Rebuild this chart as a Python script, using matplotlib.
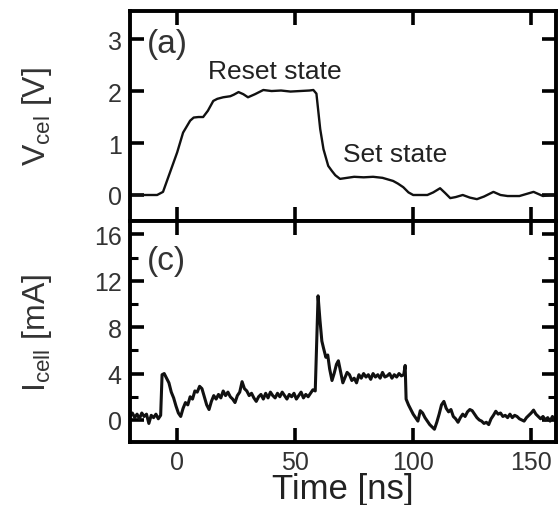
import matplotlib
matplotlib.use("Agg")
import matplotlib.pyplot as plt
from matplotlib.ticker import MultipleLocator, FixedLocator

plt.rcParams['font.family'] = ['Liberation Sans', 'DejaVu Sans']
plt.rcParams['mathtext.default'] = 'regular'

# ---- data ----
time_v = [-20, -14, -8.5, -6, -3, 0, 2.5, 5.5, 7, 9, 11, 13, 15.3, 17, 19.5, 22.5,
          24, 26, 28, 30, 33, 36.5, 40, 44, 48, 52, 56, 57.7, 59, 60.6, 62, 64,
          65.6, 67, 69, 72, 75, 79, 83, 87, 91.5, 93.5, 95.8, 98, 100, 103, 106,
          108.5, 111.4, 113.5, 115.7, 118, 121, 124, 127, 130, 134, 137, 140, 145,
          148, 151, 155, 158, 161]
v_cel = [0.0, 0.0, 0.0, 0.06, 0.44, 0.82, 1.2, 1.43, 1.49, 1.5, 1.5, 1.62, 1.81, 1.85,
         1.88, 1.9, 1.93, 1.98, 1.94, 1.88, 1.94, 2.02, 2.0, 2.01, 1.99, 2.0, 2.01,
         2.02, 1.95, 1.27, 0.88, 0.56, 0.46, 0.38, 0.31, 0.33, 0.35, 0.34, 0.35, 0.33,
         0.27, 0.22, 0.15, 0.05, 0.0, 0.0, 0.0, 0.05, 0.13, 0.04, -0.06, -0.04, 0.0,
         -0.05, -0.08, -0.03, 0.06, 0.0, -0.02, -0.02, 0.02, 0.06, -0.02, 0.0, 0.0]

time_i = [-20, -19, -18, -17, -16, -15, -14, -13, -12, -11, -10, -9, -8, -7,
          -6.4, -5.5, -4.5, -3.5, -2.5, -1.5, -0.5, 0.5, 1.5, 2.5, 3.5, 4.5, 5.5, 6.5,
          7.5, 8.5, 9.5, 10.5, 11.5, 12.5, 13.5,
          14.5, 15.5, 16.5, 17.5, 18.5, 19.5, 20.5, 21.5, 22.5, 23.5, 24.5, 25.5, 26.5,
          27.5, 28.5, 29.5, 30.5, 31.5, 32.5, 33.5, 34.5, 35.5, 36.5, 37.5, 38.5, 39.5,
          40.5, 41.5, 42.5, 43.5, 44.5, 45.5, 46.5, 47.5, 48.5, 49.5, 50.5, 51.5, 52.5,
          53.5, 54.5, 55.5, 56.5, 57.5,
          58.5, 59.7, 60.5, 61.3, 62.0, 63.0, 63.8, 64.6, 65.6, 66.5, 67.5, 68.3, 69.2,
          70.2, 71.0, 72, 73, 74, 75, 76, 77, 78, 79, 80, 81, 82, 83, 84, 85, 86, 87,
          88, 89, 90, 91, 92, 93, 94, 95, 96, 96.6,
          97, 98, 99, 100, 101, 102, 103, 104, 105, 106, 107, 108, 109, 110, 111, 112,
          113, 114, 115, 116, 117, 118, 119, 120, 121, 122, 123, 124, 125, 126, 127,
          128, 129, 130, 131, 132, 133, 134, 135, 136, 137, 138, 139, 140, 141, 142,
          143, 144, 145, 146, 147, 148, 149, 150, 151, 152, 153, 154, 155, 156, 157,
          158, 159, 160]
i_cell = [0.3, 0.6, 0.2, 0.5, 0.1, 0.6, 0.3, 0.5, -0.3, 0.4, 0.2, 0.5, 0.1, 0.4,
          3.9, 4.0, 3.6, 3.2, 2.4, 1.9, 1.2, 0.6, 0.3, 1.0, 1.5, 1.3, 2.0, 1.8,
          2.5, 2.4, 2.9, 2.7, 2.0, 1.3, 0.9,
          1.6, 2.1, 1.8, 2.2, 1.9, 2.5, 2.1, 2.4, 2.0, 1.8, 1.5, 2.1, 2.4,
          3.3, 2.7, 2.5, 2.1, 2.3, 1.9, 1.6, 2.0, 2.2, 1.8, 2.3, 1.9, 2.4,
          2.1, 1.9, 2.3, 2.0, 2.4, 2.1, 1.8, 2.2, 2.0, 2.3, 1.8, 2.1, 2.4,
          1.9, 2.2, 2.0, 2.3, 2.6,
          2.5, 10.7, 8.6, 6.8, 6.2, 5.4, 5.6, 4.4, 3.4, 4.0, 4.8, 5.1, 4.2,
          3.2, 3.6, 4.1, 3.9, 3.4, 3.6, 3.2, 3.9, 3.6, 4.0, 3.7, 3.9, 3.5, 4.0, 3.7, 3.9, 3.6, 4.1,
          3.7, 3.8, 4.0, 3.6, 3.9, 3.7, 4.0, 3.8, 3.9, 4.7,
          1.8, 1.3, 0.9, 0.5, 0.2, -0.1, 0.8, 0.6, 0.2, -0.1, -0.4, -0.6, -0.8, -0.2, 0.5, 1.3,
          1.6, 1.0, 0.7, 0.9, 0.3, 0.1, -0.2, 0.2, 0.5, 0.3, 0.7, 0.9, 0.8, 0.5, 0.2,
          0.0, -0.1, -0.3, -0.2, -0.4, 0.1, 0.4, 0.75, 0.5, 0.6, 0.3, 0.4, 0.2, 0.5, 0.2,
          0.4, 0.3, 0.1, 0.0, -0.1, 0.2, 0.4, 0.6, 0.85, 0.5, 0.3, 0.1, 0.3, 0.0, 0.2,
          -0.1, 0.3, 0.0]

x_ticks = [0, 50, 100, 150]
v_ticks = [0, 1, 2, 3]
i_ticks = [0, 4, 8, 12, 16]

fig = plt.figure(figsize=(5.6, 5.06), dpi=100)
ax1 = fig.add_axes([0.2321, 0.5613, 0.7607, 0.4150])
ax2 = fig.add_axes([0.2321, 0.1245, 0.7607, 0.4368], sharex=ax1)

ax1.plot(time_v, v_cel, color='#111111', lw=1.7)
ax2.plot(time_i, i_cell, color='#111111', lw=2.2)

ax1.set_xlim(-20, 160.5)
ax1.set_ylim(-0.5, 3.54)
ax2.set_ylim(-1.9, 17.15)

ax1.xaxis.set_major_locator(FixedLocator(x_ticks))
ax1.yaxis.set_major_locator(FixedLocator(v_ticks))
ax2.yaxis.set_major_locator(FixedLocator(i_ticks))
ax2.yaxis.set_minor_locator(MultipleLocator(2))

for ax in (ax1, ax2):
    for s in ax.spines.values():
        s.set_linewidth(2.8)
    ax.tick_params(which='major', direction='in', top=True, right=True,
                   length=10, width=2.6, labelsize=18, pad=6, labelcolor='#333333')
    ax.tick_params(which='minor', direction='in', top=True, right=True,
                   length=6, width=2.2)
ax2.tick_params(axis='x', which='minor', bottom=False, top=False)
ax1.tick_params(axis='x', labelbottom=False)

ax1.set_ylabel('V$_{cel}$ [V]', fontsize=23, color='#333333')
ax2.set_ylabel('I$_{cell}$ [mA]', fontsize=23, color='#333333')
ax1.yaxis.set_label_coords(-0.178, 0.5)
ax2.yaxis.set_label_coords(-0.178, 0.5)
ax2.set_xlabel('Time [ns]', fontsize=25, color='#222222')
ax2.xaxis.set_label_coords(0.5, -0.135)

ax1.text(0.04, 0.845, '(a)', transform=ax1.transAxes, fontsize=24,
         va='center', ha='left', color='#333333')
ax1.text(0.183, 0.714, 'Reset state', transform=ax1.transAxes, fontsize=19,
         va='center', ha='left', color='#222222')
ax1.text(0.50, 0.32, 'Set state', transform=ax1.transAxes, fontsize=19,
         va='center', ha='left', color='#222222')
ax2.text(0.04, 0.82, '(c)', transform=ax2.transAxes, fontsize=24,
         va='center', ha='left', color='#333333')

fig.savefig('out.png', dpi=100)
